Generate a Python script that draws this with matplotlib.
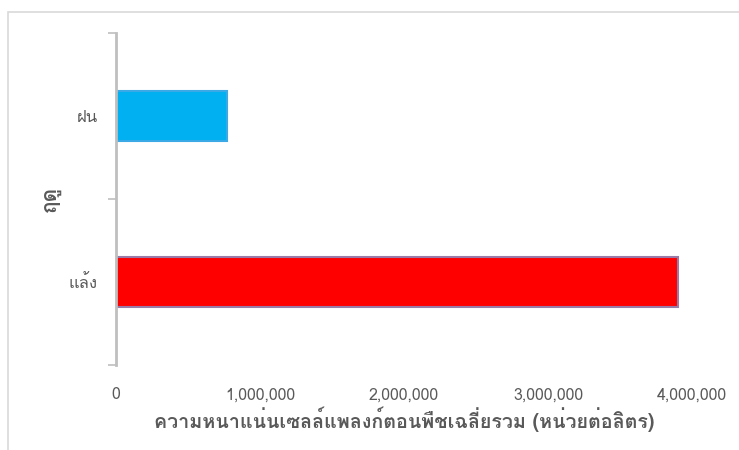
import matplotlib
matplotlib.use("Agg")
import matplotlib.pyplot as plt
from matplotlib import font_manager
from matplotlib.patches import Rectangle

# Data
seasons = ["แล้ง", "ฝน"]
density = [3900000, 770000]
bar_colors = ["#FF0000", "#00B0F0"]
edge_colors = ["#9A7AA6", "#3AA9E6"]
x_ticks = [0, 1000000, 2000000, 3000000, 4000000]
x_label = "ความหนาแน่นเซลล์แพลงก์ตอนพืชเฉลี่ยรวม (หน่วยต่อลิตร)"
y_label = "ฤดู"


def find_thai_font():
    try:
        from fontTools.ttLib import TTFont
    except Exception:
        return None
    for f in font_manager.fontManager.ttflist:
        try:
            tt = TTFont(f.fname, fontNumber=0, lazy=True)
            cmap = tt.getBestCmap()
            if cmap and 0x0E01 in cmap and 0x0E25 in cmap:
                return f.name
        except Exception:
            continue
    return None


thai = find_thai_font()
families = ([thai] if thai else []) + ["DejaVu Sans"]
plt.rcParams["font.family"] = families

W, H = 739, 450
fig = plt.figure(figsize=(W / 100, H / 100), dpi=100)
fig.patch.set_facecolor("white")

# outer chart-area frame
fig.patches.append(Rectangle((8 / W, -0.05), 1.2, 1 - 12 / H + 0.05,
                             transform=fig.transFigure, fill=False,
                             edgecolor="#D9D9D9", linewidth=1.2))

ax = fig.add_axes([116 / W, 1 - 365 / H, (692 - 116) / W, (365 - 33) / H])
ypos = list(range(len(seasons)))
ax.barh(ypos, density, height=0.30, color=bar_colors,
        edgecolor=edge_colors, linewidth=1.5)

ax.set_xlim(0, 4000000)
ax.set_ylim(-0.5, 1.5)
ax.set_xticks(x_ticks)
ax.set_xticklabels([f"{v:,}" for v in x_ticks])
ax.set_yticks(ypos)
ax.set_yticklabels(seasons)
ax.set_yticks([-0.5, 0.5, 1.5], minor=True)

for s in ["top", "right", "bottom"]:
    ax.spines[s].set_visible(False)
ax.spines["left"].set_color("#BFBFBF")
ax.spines["left"].set_linewidth(2)

ax.tick_params(axis="x", length=0, pad=16, labelsize=11.5, labelcolor="#595959")
ax.tick_params(axis="y", which="major", length=0, pad=13, labelsize=12,
               labelcolor="#595959")
ax.tick_params(axis="y", which="minor", length=6, width=1.2, color="#BFBFBF")

ax.set_xlabel(x_label, fontsize=14.2, fontweight="bold", color="#595959", labelpad=2)
ax.set_ylabel(y_label, fontsize=15, fontweight="bold", color="#595959", labelpad=6)

fig.savefig("out.png", dpi=100, facecolor="white")
